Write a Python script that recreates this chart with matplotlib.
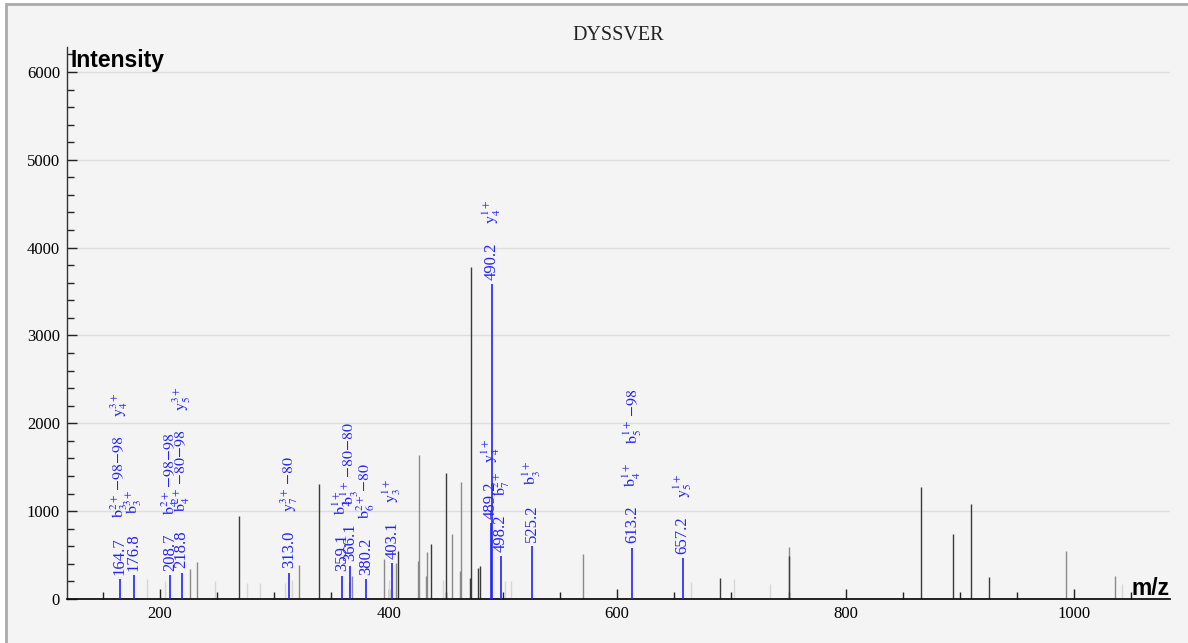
import numpy as np
import matplotlib
matplotlib.use('Agg')
import matplotlib.pyplot as plt
from matplotlib.patches import Rectangle
from matplotlib.ticker import MultipleLocator

plt.rcParams['mathtext.fontset'] = 'stix'

#unmatched peaks: m/z, intensity, shade (d=dark, m=medium, l=light)
peak_mz = [188.3, 204.4, 226.3, 232.1, 248.5, 269.5, 276.2, 287.3, 309.4, 315.6,
           321.5, 339.4, 365.4, 368.3, 396.4, 400.5, 406.6, 408.6, 425.5, 426.7,
           432.5, 433.4, 437.5, 448.0, 450.0, 455.4, 462.4, 463.5, 471.6, 472.5,
           478.6, 480.4, 502.2, 507.2, 569.7, 664.5, 689.6, 701.8, 733.3, 750.0,
           750.5, 865.5, 893.5, 909.6, 925.6, 993.0, 1035.6, 1041.7]
peak_int = [224, 205, 338, 420, 207, 945, 178, 178, 186, 211,
            385, 1306, 193, 266, 452, 216, 406, 547, 433, 1640,
            262, 535, 623, 220, 1440, 740, 319, 1329, 243, 3778,
            357, 376, 205, 210, 510, 192, 237, 224, 167, 596,
            490, 1272, 740, 1078, 254, 543, 262, 167]
peak_shade = ['l', 'l', 'm', 'm', 'l', 'd', 'l', 'l', 'l', 'l',
              'm', 'd', 'l', 'm', 'm', 'l', 'm', 'd', 'm', 'm',
              'm', 'm', 'd', 'l', 'd', 'm', 'm', 'm', 'd', 'd',
              'd', 'd', 'l', 'l', 'm', 'l', 'd', 'l', 'l', 'm',
              'd', 'd', 'd', 'd', 'd', 'm', 'm', 'l']

#annotated fragment peaks
ion_mz = [164.7, 176.8, 208.7, 218.8, 313.0, 359.1, 366.1, 380.2, 403.1,
          489.2, 490.2, 498.2, 525.2, 613.2, 657.2]
ion_int = [228, 273, 273, 300, 300, 266, 380, 228, 406,
           862, 3584, 490, 607, 585, 463]
ion_labels = [[r'$\mathrm{b}_3^{2+}\,{-}98{-}98$', r'$\mathrm{y}_4^{3+}$'],
              [r'$\mathrm{b}_3^{3+}$'],
              [r'$\mathrm{b}_4^{2+}\,{-}98{-}98$'],
              [r'$\mathrm{b}_4^{2+}\,{-}80{-}98$', r'$\mathrm{y}_5^{3+}$'],
              [r'$\mathrm{y}_7^{3+}\,{-}80$'],
              [r'$\mathrm{b}_2^{1+}$'],
              [r'$\mathrm{b}_3^{1+}\,{-}80{-}80$'],
              [r'$\mathrm{b}_6^{2+}\,{-}80$'],
              [r'$\mathrm{y}_3^{1+}$'],
              [r'$\mathrm{y}_4^{1+}$'],
              [r'$\mathrm{y}_4^{1+}$'],
              [r'$\mathrm{b}_7^{2+}$'],
              [r'$\mathrm{b}_3^{1+}$'],
              [r'$\mathrm{b}_4^{1+}$', r'$\mathrm{b}_5^{1+}\,{-}98$'],
              [r'$\mathrm{y}_5^{1+}$']]

shade_colors = {'d': '#3a3a3a', 'm': '#8a8a8a', 'l': '#d6d6d6'}
blue = '#2323ff'
W, H = 1188, 643

fig = plt.figure(figsize=(W/100, H/100), dpi=100, facecolor='white')
#panel background with a gray frame on top/left
fig.patches.append(Rectangle((6/W, -0.1), 1.1, 1.1 - 4/H, transform=fig.transFigure,
                             facecolor='#f4f4f4', edgecolor='#aaaaaa', lw=2, zorder=-5))
ax = fig.add_axes([67/W, 1-599/H, (1170-67)/W, (599-47)/H])
ax.set_facecolor('#f4f4f4')

ax.set_xlim(118.6, 1083.7)
ax.set_ylim(0, 6284)

#grid
ax.set_axisbelow(True)
ax.yaxis.grid(True, color='#dddddd', lw=1)

for s in ['top', 'right']:
    ax.spines[s].set_visible(False)
ax.spines['left'].set_color('#333333')
ax.spines['bottom'].set_color('#111111')
ax.spines['left'].set_linewidth(1.0)
ax.spines['bottom'].set_linewidth(1.3)

ax.xaxis.set_major_locator(MultipleLocator(200))
ax.xaxis.set_minor_locator(MultipleLocator(50))
ax.yaxis.set_major_locator(MultipleLocator(1000))
ax.yaxis.set_minor_locator(MultipleLocator(200))
ax.tick_params(which='both', direction='in', color='#222222')
ax.tick_params(which='major', length=7.5, width=1)
ax.tick_params(which='minor', length=5, width=1)
ax.tick_params(axis='y', pad=5)
ax.tick_params(axis='x', pad=5)
for lab in ax.get_xticklabels() + ax.get_yticklabels():
    lab.set_family('Liberation Serif')
    lab.set_fontsize(12)

#gray peaks
for sh in ['l', 'm', 'd']:
    xs = [m for m, s in zip(peak_mz, peak_shade) if s == sh]
    ys = [v for v, s in zip(peak_int, peak_shade) if s == sh]
    ax.vlines(xs, 0, ys, color=shade_colors[sh], lw=1)

#annotated peaks
ax.vlines(ion_mz, 0, ion_int, color=blue, lw=1.2, zorder=3)

fig.canvas.draw()
renderer = fig.canvas.get_renderer()
gap = 13.5
for mz, inten, labs in zip(ion_mz, ion_int, ion_labels):
    t = ax.annotate(f'{mz:.1f}', (mz, inten), xytext=(0, 3), textcoords='offset points',
                    rotation=90, ha='center', va='bottom', color=blue,
                    fontsize=12, family='Liberation Serif')
    off = 3 + t.get_window_extent(renderer).height * 72 / fig.dpi + gap
    for lab in labs:
        t2 = ax.annotate(lab, (mz, inten), xytext=(0, off), textcoords='offset points',
                         rotation=90, ha='center', va='bottom', color=blue, fontsize=11.5)
        off += t2.get_window_extent(renderer).height * 72 / fig.dpi + gap

#titles and axis names
fig.text(618/W, 1-35/H, 'DYSSVER', ha='center', va='center',
         family='Liberation Serif', fontsize=14.5, color='#222222')
fig.text(71/W, 1-49/H, 'Intensity', ha='left', va='top',
         family='Liberation Sans', fontweight='bold', fontsize=16.5)
fig.text(1170/W, 1-595/H, 'm/z', ha='right', va='baseline',
         family='Liberation Sans', fontweight='bold', fontsize=16.5)

plt.savefig('out.png', dpi=100, facecolor=fig.get_facecolor())
